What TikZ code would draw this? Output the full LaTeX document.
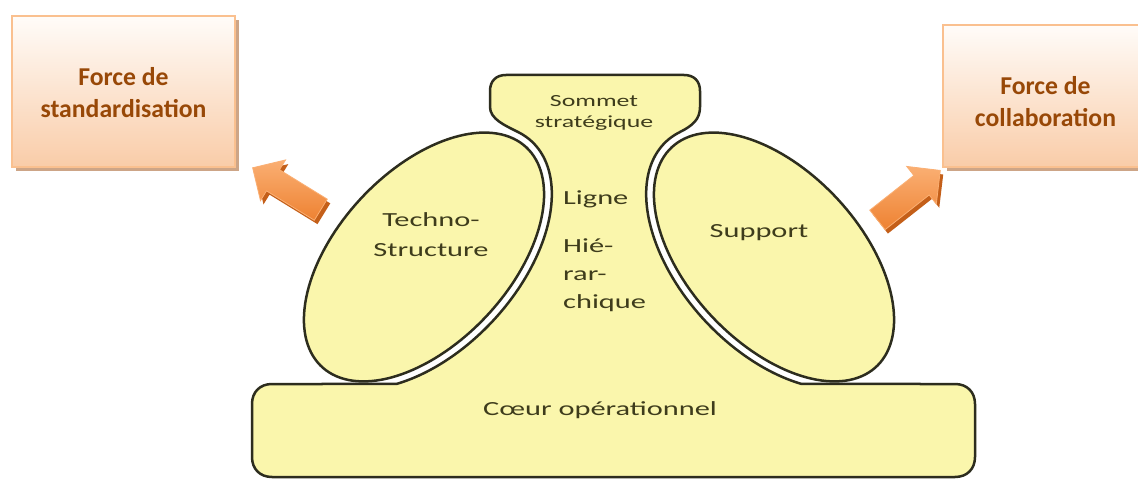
\documentclass[tikz,border=0pt]{standalone}
\usepackage{fontspec}
\setmainfont{Carlito}
\newfontfamily\shapefont[FakeStretch=1.52]{Carlito}
\usetikzlibrary{shapes.arrows,shadows}

\definecolor{shapefill}{RGB}{250,246,172}
\definecolor{shapeline}{RGB}{45,45,30}
\definecolor{shapetext}{RGB}{62,60,28}
\definecolor{forcetext}{RGB}{152,72,7}
\definecolor{boxtop}{RGB}{255,252,249}
\definecolor{boxbottom}{RGB}{249,204,168}
\definecolor{boxborder}{RGB}{250,192,143}
\definecolor{boxshadow}{RGB}{205,165,135}
\definecolor{arrowlight}{RGB}{250,175,115}
\definecolor{arrowdark}{RGB}{238,130,50}
\definecolor{arrowshadow}{RGB}{196,95,25}

\begin{document}
\begin{tikzpicture}[x=1pt,y=-1pt,
  outline/.style={draw=shapeline, line width=2.5pt, line join=round},
  shapelabel/.style={inner sep=0pt, anchor=base, text=shapetext,
    font=\shapefont\fontsize{20}{24}\selectfont},
  smalllabel/.style={shapelabel, font=\shapefont\fontsize{17}{20}\selectfont},
  forcebox/.style={draw=boxborder, line width=2.6pt, top color=boxtop,
    bottom color=boxbottom, inner sep=0pt,
    drop shadow={shadow xshift=4pt, shadow yshift=-4pt, fill=boxshadow, opacity=1}},
  forcelabel/.style={inner sep=0pt, anchor=base, text=forcetext,
    font=\bfseries\fontsize{25.7}{30}\selectfont},
  blockarrow/.style={single arrow, single arrow head extend=11.5pt,
    inner xsep=0pt, inner ysep=12pt, minimum height=80pt},
  arrowbody/.style={blockarrow, top color=arrowlight, bottom color=arrowdark,
    draw=arrowlight, line width=0.8pt},
  arrowshade/.style={blockarrow, fill=arrowshadow}
]
\useasboundingbox (0,0) rectangle (1138,481);
\fill[white] (0,0) rectangle (1138,481);

% central body: strategic apex, middle line and operating core in one outline
\path[outline, fill=shapefill]
  (490,95) -- (490,91) .. controls (490,81) and (496,75) .. (506,75)
  -- (684,75) .. controls (694,75) and (700,81) .. (700,91)
  -- (700,107)
  .. controls (700,119) and (693.2,125.4) .. (679.8,132.1)
  -- plot[domain=-10:135, samples=90, variable=\t]
       ({774-107.8*cos(\t)-68.7*sin(\t)}, {257-115.5*cos(\t)+64.1*sin(\t)})
  -- (955,384) .. controls (967,384) and (975,392) .. (975,404)
  -- (975,457) .. controls (975,469) and (967,477) .. (955,477)
  -- (272,477) .. controls (260,477) and (252,469) .. (252,457)
  -- (252,404) .. controls (252,392) and (260,384) .. (272,384)
  -- plot[domain=0:145, samples=90, variable=\u]
       ({424+107.8*cos(135-\u)+68.7*sin(135-\u)}, {257-115.5*cos(135-\u)+64.1*sin(135-\u)})
  .. controls (504.8,125.4) and (490,119) .. (490,107)
  -- cycle;

% technostructure and support staff
\path[outline, fill=shapefill]
  plot[domain=0:360, samples=140, variable=\t]
    ({424+102.3*cos(\t)+62.9*sin(\t)}, {257-109.7*cos(\t)+58.7*sin(\t)}) -- cycle;
\path[outline, fill=shapefill]
  plot[domain=0:360, samples=140, variable=\t]
    ({774-102.3*cos(\t)-62.9*sin(\t)}, {257-109.7*cos(\t)+58.7*sin(\t)}) -- cycle;

% labels of the parts
\node[smalllabel] (sommet1) at (594,107) {Sommet};
\node[smalllabel] (sommet2) at (594,128) {stratégique};
\node[shapelabel] (techno1) at (431,227) {Techno-};
\node[shapelabel] (techno2) at (431,257) {Structure};
\node[shapelabel, anchor=base west] (ligne1) at (563,205) {Ligne};
\node[shapelabel, anchor=base west] (ligne2) at (563,252) {Hié-};
\node[shapelabel, anchor=base west] (ligne3) at (563,280) {rar-};
\node[shapelabel, anchor=base west] (ligne4) at (563,308) {chique};
\node[shapelabel] (support) at (759,238) {Support};
\node[shapelabel] (coeur) at (600,415) {Cœur opérationnel};

% the two forces
\node[forcebox, minimum width=223pt, minimum height=151pt] (boxL) at (123.5,91.5) {};
\node[forcelabel] (forceL1) at (123.5,86) {Force de};
\node[forcelabel] (forceL2) at (123.5,118) {standardisation};
\node[forcebox, minimum width=205pt, minimum height=142pt] (boxR) at (1045.5,96) {};
\node[forcelabel] (forceR1) at (1045.5,95) {Force de};
\node[forcelabel] (forceR2) at (1045.5,127) {collaboration};

% block arrows pulling towards the forces
\node[arrowshade, rotate=148.4] (arrowLs) at (295,196) {};
\node[arrowbody, rotate=148.4] (arrowL) at (292,192) {};
\node[arrowshade, rotate=38.2] (arrowRs) at (907,203) {};
\node[arrowbody, rotate=38.2] (arrowR) at (904,199) {};
\end{tikzpicture}
\end{document}
